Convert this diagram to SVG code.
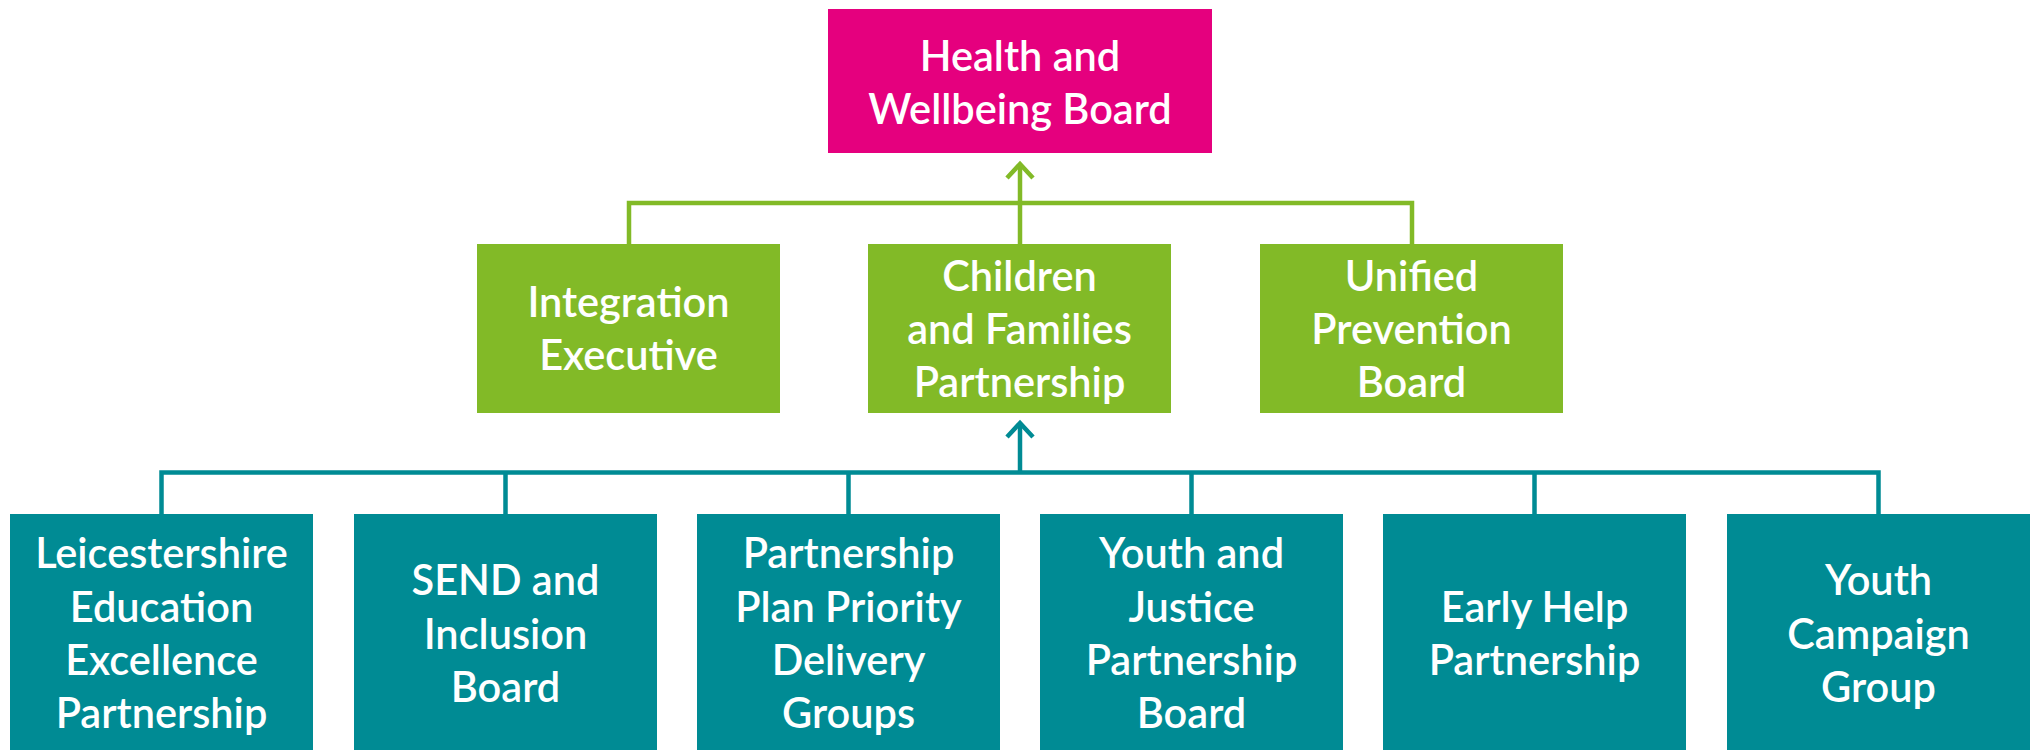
<svg xmlns="http://www.w3.org/2000/svg" width="2035" height="750" viewBox="0 0 2035 750">
<style>
.pink{fill:#E5007E}
.green{fill:#82BA27}
.teal{fill:#008B94}
.t{font-family:Lato,"Liberation Sans",sans-serif;font-size:41.5px;font-weight:600;fill:#FFFFFF;text-anchor:middle}
.cg{fill:none;stroke:#82BA27;stroke-width:4.5;stroke-linejoin:miter}
.ct{fill:none;stroke:#008B94;stroke-width:4.5;stroke-linejoin:miter}
</style>
<rect width="2035" height="750" fill="#FFFFFF"/>
<g id="connectors">
<path class="cg" d="M629,244 V203 H1412 V244"/>
<path class="cg" d="M1020,244 V164"/>
<polyline class="cg" points="1007,178 1020,164 1033,178"/>
<path class="ct" d="M161.5,514 V472.5 H1878.5 V514"/>
<path class="ct" d="M505.5,514 V472.5 M848.5,514 V472.5 M1191.5,514 V472.5 M1534.5,514 V472.5"/>
<path class="ct" d="M1020,472.5 V423"/>
<polyline class="ct" points="1007,437 1020,423 1033,437"/>
</g>
<g id="health-wellbeing-board">
<rect class="pink" x="828" y="9" width="384" height="144"/>
<text class="t" x="1020" y="71">Health and</text>
<text class="t" x="1020" y="124">Wellbeing Board</text>
</g>
<g id="integration-executive">
<rect class="green" x="477" y="244" width="303" height="169"/>
<text class="t" x="628.5" y="317">Integration</text>
<text class="t" x="628.5" y="370">Executive</text>
</g>
<g id="children-families-partnership">
<rect class="green" x="868" y="244" width="303" height="169"/>
<text class="t" x="1019.5" y="291">Children</text>
<text class="t" x="1019.5" y="344">and Families</text>
<text class="t" x="1019.5" y="397">Partnership</text>
</g>
<g id="unified-prevention-board">
<rect class="green" x="1260" y="244" width="303" height="169"/>
<text class="t" x="1411.5" y="291">Unified</text>
<text class="t" x="1411.5" y="344">Prevention</text>
<text class="t" x="1411.5" y="397">Board</text>
</g>
<g id="leep">
<rect class="teal" x="10" y="514" width="303" height="236"/>
<text class="t" x="161.5" y="568">Leicestershire</text>
<text class="t" x="161.5" y="621.5">Education</text>
<text class="t" x="161.5" y="675">Excellence</text>
<text class="t" x="161.5" y="728">Partnership</text>
</g>
<g id="send-inclusion-board">
<rect class="teal" x="354" y="514" width="303" height="236"/>
<text class="t" x="505.5" y="595">SEND and</text>
<text class="t" x="505.5" y="648.5">Inclusion</text>
<text class="t" x="505.5" y="702">Board</text>
</g>
<g id="partnership-plan">
<rect class="teal" x="697" y="514" width="303" height="236"/>
<text class="t" x="848.5" y="568">Partnership</text>
<text class="t" x="848.5" y="621.5">Plan Priority</text>
<text class="t" x="848.5" y="675">Delivery</text>
<text class="t" x="848.5" y="728">Groups</text>
</g>
<g id="youth-justice">
<rect class="teal" x="1040" y="514" width="303" height="236"/>
<text class="t" x="1191.5" y="568">Youth and</text>
<text class="t" x="1191.5" y="621.5">Justice</text>
<text class="t" x="1191.5" y="675">Partnership</text>
<text class="t" x="1191.5" y="728">Board</text>
</g>
<g id="early-help">
<rect class="teal" x="1383" y="514" width="303" height="236"/>
<text class="t" x="1534.5" y="621.5">Early Help</text>
<text class="t" x="1534.5" y="675">Partnership</text>
</g>
<g id="youth-campaign">
<rect class="teal" x="1727" y="514" width="303" height="236"/>
<text class="t" x="1878.5" y="595">Youth</text>
<text class="t" x="1878.5" y="648.5">Campaign</text>
<text class="t" x="1878.5" y="702">Group</text>
</g>
</svg>
